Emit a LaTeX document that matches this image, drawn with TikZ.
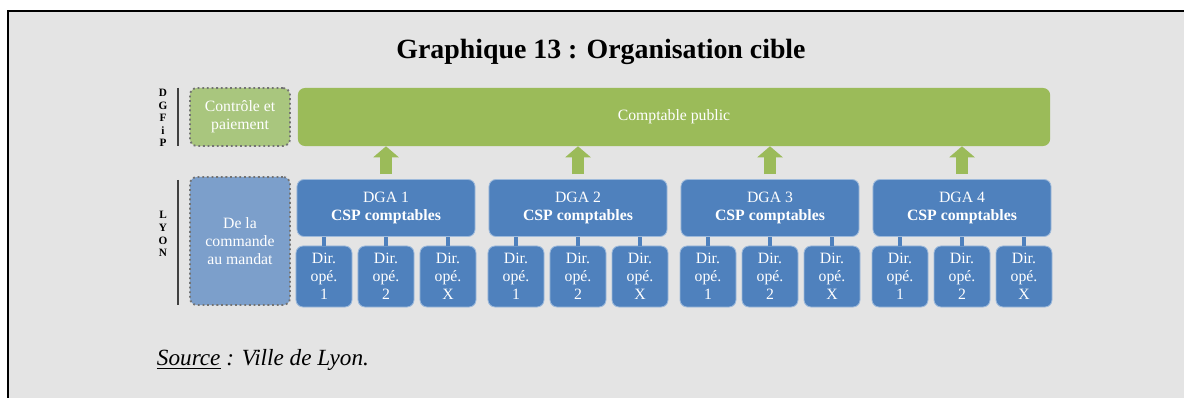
\documentclass[tikz,border=0pt]{standalone}
\usepackage{fontspec}
\setmainfont{Liberation Serif}
\usetikzlibrary{positioning,arrows.meta}
\definecolor{fondgris}{HTML}{E4E4E4}
\definecolor{bleu}{HTML}{4F81BD}
\definecolor{bleuclair}{HTML}{7C9FCB}
\definecolor{vert}{HTML}{9BBB59}
\definecolor{vertclair}{HTML}{A9C67E}

\begin{document}
\begin{tikzpicture}[x=0.025cm,y=-0.025cm,
		boite/.style={rounded corners=5pt, text=white, align=center, inner sep=0pt,
			font=\fontsize{11.2}{12.75}\selectfont},
		dga/.style={boite, fill=bleu, draw=bleu!55!white, line width=0.6pt,
			minimum width=4.45cm, minimum height=1.425cm},
		dirop/.style={boite, fill=bleu, draw=bleu!55!white, line width=0.6pt,
			minimum width=1.4cm, minimum height=1.525cm},
		pointille/.style={boite, draw=black!55, dotted, line width=1.3pt},
		fleche/.style={draw=vert, line width=9.2pt,
			-{Triangle[width=17.7pt,length=7.8pt]}, shorten <=3.5pt},
		lien/.style={draw=bleu, line width=2.8pt},
		lettres/.style={font=\fontsize{8}{9}\bfseries\selectfont, align=center, inner sep=0pt}]
		
		\useasboundingbox (0,0) rectangle (1184,398);
		\fill[fondgris] (8,11) rectangle (1184,398);
		\draw[line width=2.1pt] (8,398) -- (8,11) -- (1184,11);
		
		\node[font=\fontsize{19.8}{22}\bfseries\selectfont] (titre) at (601,52) {Graphique 13 : Organisation cible};
		
		% bandeau DGFiP
		\node[lettres] (dgfip) at (163,118) {D\\G\\F\\i\\P};
		\draw[black!75, line width=1.5pt] (178,88) -- (178,146);
		\node[pointille, fill=vertclair, minimum width=2.5cm, minimum height=1.45cm] (controle) at (240,117) {Contrôle et\\paiement};
		\node[boite, fill=vert, minimum width=18.8cm, minimum height=1.45cm] (cp) at (674,117) {Comptable public};
		
		% bandeau Lyon
		\node[lettres] (lyon) at (163,234) {L\\Y\\O\\N};
		\draw[black!75, line width=1.5pt] (178,180) -- (178,305);
		\node[pointille, fill=bleuclair, minimum width=2.5cm, minimum height=3.2cm] (mandat) at (240,241) {De la\\commande\\au mandat};
		
		\foreach \i/\x in {1/386,2/578,3/770,4/962} {
			\node[dga] (dga\i) at (\x,208) {DGA \i\\\textbf{CSP comptables}};
			\node[dirop] (dir\i-1) at ({\x-62},276.5) {Dir.\\opé.\\1};
			\node[dirop] (dir\i-2) at (\x,276.5) {Dir.\\opé.\\2};
			\node[dirop] (dir\i-3) at ({\x+62},276.5) {Dir.\\opé.\\X};
			\foreach \j in {1,2,3}
				\draw[lien] (dir\i-\j.north) -- (dir\i-\j.north |- dga\i.south);
			\draw[fleche] (dga\i.north) -- (dga\i.north |- cp.south);
		}
		
		\node[anchor=base west, font=\fontsize{16.5}{18}\itshape\selectfont] (source) at (152,366) {\underline{Source} : Ville de Lyon.};
	\end{tikzpicture}
\end{document}
